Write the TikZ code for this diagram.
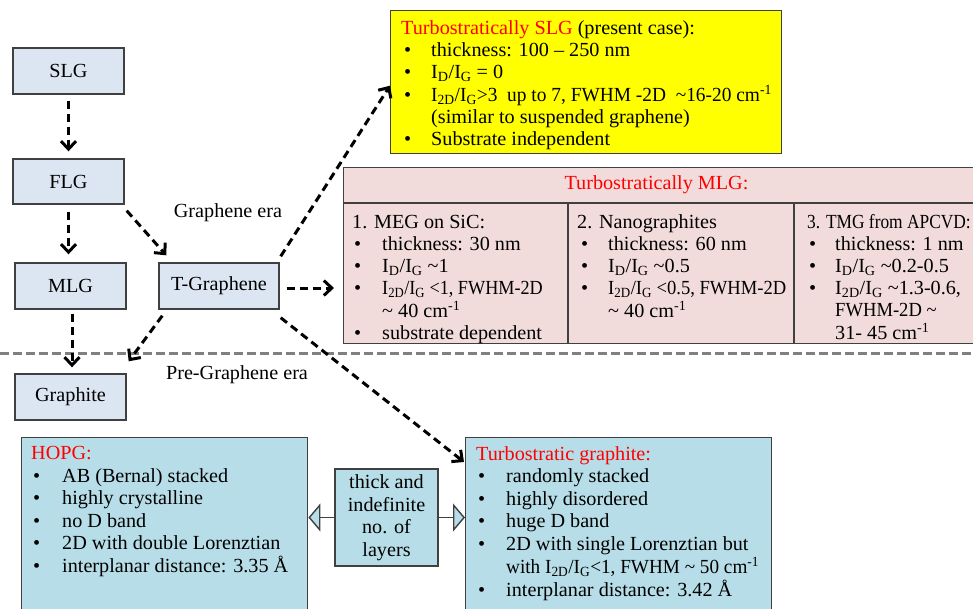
\documentclass[tikz,border=0pt]{standalone}
\usepackage{fontspec}
\usepackage{graphicx}
\setmainfont{Liberation Serif}[FakeStretch=1.01]
\usetikzlibrary{arrows.meta,calc}
\definecolor{smallblue}{HTML}{DCE6F2}
\definecolor{bigblue}{HTML}{B7DEE8}
\definecolor{pinkc}{HTML}{F2DCDB}
\definecolor{yellowc}{HTML}{FFFF00}
\definecolor{bordc}{HTML}{404040}
\definecolor{titlered}{HTML}{FF0000}
\definecolor{eragray}{HTML}{808080}
\newcommand{\sbs}[1]{\textsubscript{#1}}
\newcommand{\sps}[1]{\textsuperscript{#1}}
\newcommand{\tl}{\textasciitilde}
\newcommand{\IDG}{I\sbs{D}/I\sbs{G}}
\newcommand{\ITG}{I\sbs{2D}/I\sbs{G}}
\newcommand{\bul}[2]{\makebox[#2][l]{\hspace*{#1}\textbullet}}
\newcommand{\hsq}[2]{\scalebox{#1}[1]{#2}}
\begin{document}
\begin{tikzpicture}[x=1pt,y=-1pt,
  every node/.style={font=\fontsize{20}{22}\selectfont, text=black, inner sep=0pt},
  smallbox/.style={draw=bordc, line width=1.4pt, fill=smallblue, minimum width=111pt, minimum height=46pt},
  bigbox/.style={draw=bordc, line width=1.4pt},
  darrow/.style={draw=black, line width=3pt, dash pattern=on 8pt off 5pt,
    -{Straight Barb[length=8pt,width=15pt]}},
  eraline/.style={draw=eragray, line width=3pt, dash pattern=on 9pt off 4pt},
  tri/.style={draw=bordc, line width=1.4pt, -{Triangle[length=12pt,width=28pt,fill=bigblue]}},
  txt/.style={anchor=base west}
]
\useasboundingbox (0,0) rectangle (973,608);
\clip (0,0) rectangle (973,608);

% era separator
\draw[eraline] (0,353) -- (973,353);

% small boxes
\node[smallbox] (slg) at (68.5,71) {SLG};
\node[smallbox, minimum height=45pt] (flg) at (68.5,181.5) {FLG};
\node[smallbox] (mlg) at (70.5,286) {MLG};
\node[smallbox, minimum width=120pt] (tg) at (219,286) {T-Graphene};
\node[smallbox] (graphite) at (70.5,397) {Graphite};

\node (gera) at (228,213) {Graphene era};
\node (pgera) at (237,375) {Pre-Graphene era};

% yellow box
\node[bigbox, fill=yellowc, minimum width=391pt, minimum height=143pt, anchor=north west] (yel) at (390,10) {};
\node[txt] (ytext) at (401,34.5) {\begin{tabular}[t]{@{}l@{}}
\textcolor{titlered}{Turbostratically SLG} (present case):\\
\bul{3pt}{30pt}thickness: 100 – 250 nm\\
\bul{3pt}{30pt}\IDG{} = 0\\
\bul{3pt}{30pt}\hsq{0.96}{\ITG{}>3\ \ up to 7, FWHM -2D\ \ \tl16-20 cm\sps{-1}}\\
\hspace*{30pt}(similar to suspended graphene)\\
\bul{3pt}{30pt}Substrate independent
\end{tabular}};

% pink box
\node[bigbox, fill=pinkc, minimum width=660pt, minimum height=176pt, anchor=north west] (pinkbox) at (343,167) {};
\draw[bordc, line width=1.4pt] (343,203) -- (1003,203);
\draw[bordc, line width=1.4pt] (568,203) -- (568,343);
\draw[bordc, line width=1.4pt] (794,203) -- (794,343);
\node[text=titlered] (ptitle) at (656.5,185) {Turbostratically MLG:};
\node[txt] (p1) at (352,228.5) {\begin{tabular}[t]{@{}l@{}}
1. MEG on SiC:\\
\bul{2pt}{30pt}thickness: 30 nm\\
\bul{2pt}{30pt}\IDG{} \tl1\\
\bul{2pt}{30pt}\hsq{0.9}{\ITG{} <1, FWHM-2D}\\
\hspace*{30pt}\tl{} 40 cm\sps{-1}\\
\bul{2pt}{30pt}substrate dependent
\end{tabular}};
\node[txt] (p2) at (577,228.5) {\begin{tabular}[t]{@{}l@{}}
2. Nanographites\\
\bul{4pt}{31pt}thickness: 60 nm\\
\bul{4pt}{31pt}\IDG{} \tl0.5\\
\bul{4pt}{31pt}\hsq{0.92}{\ITG{} <0.5, FWHM-2D}\\
\hspace*{31pt}\tl{} 40 cm\sps{-1}
\end{tabular}};
\node[txt] (p3) at (807,228.5) {\begin{tabular}[t]{@{}l@{}}
\hsq{0.86}{3. TMG from APCVD:}\\
\bul{2pt}{28pt}thickness: 1 nm\\
\bul{2pt}{28pt}\IDG{} \tl0.2-0.5\\
\bul{2pt}{28pt}\ITG{} \tl1.3-0.6,\\
\hspace*{28pt}\hsq{0.92}{FWHM-2D \tl}\\
\hspace*{28pt}31- 45 cm\sps{-1}
\end{tabular}};

% bottom boxes
\node[bigbox, fill=bigblue, minimum width=286pt, minimum height=190pt, anchor=north west] (hopg) at (21,437) {};
\node[txt, font=\fontsize{20}{22.5}\selectfont] (htext) at (31,459.5) {\begin{tabular}[t]{@{}l@{}}
\textcolor{titlered}{HOPG:}\\
\bul{2pt}{31pt}AB (Bernal) stacked\\
\bul{2pt}{31pt}highly crystalline\\
\bul{2pt}{31pt}no D band\\
\bul{2pt}{31pt}2D with double Lorenztian\\
\bul{2pt}{31pt}interplanar distance: 3.35 Å
\end{tabular}};

\node[bigbox, fill=bigblue, minimum width=306pt, minimum height=190pt, anchor=north west] (turbo) at (465,437) {};
\node[txt, font=\fontsize{20}{22.4}\selectfont] (ttext) at (476,460.5) {\begin{tabular}[t]{@{}l@{}}
\textcolor{titlered}{Turbostratic graphite:}\\
\bul{2pt}{30pt}randomly stacked\\
\bul{2pt}{30pt}highly disordered\\
\bul{2pt}{30pt}huge D band\\
\bul{2pt}{30pt}2D with single Lorenztian but\\
\hspace*{30pt}\hsq{0.95}{with \ITG{}<1, FWHM \tl{} 50 cm\sps{-1}}\\
\bul{2pt}{30pt}interplanar distance: 3.42 Å
\end{tabular}};

\node[bigbox, fill=bigblue, minimum width=103pt, minimum height=97pt, align=center,
  font=\fontsize{20}{22.5}\selectfont] (mid) at (386.5,517.5) {thick and\\indefinite\\no. of\\layers};

\draw[tri] (mid.west) -- (mid.west -| hopg.east);
\draw[tri] (mid.east) -- (mid.east -| turbo.west);

% dashed arrows
\draw[darrow] ($(slg.south)+(0,6)$) -- ($(flg.north)+(0,-7)$);
\draw[darrow] ($(flg.south)+(0,7)$) -- ($(flg.south |- mlg.north)+(0,-8)$);
\draw[darrow] ($(mlg.south)+(1.5,4)$) -- ($(mlg.south |- graphite.north)+(1.5,-6)$);
\draw[darrow] ($(flg.south east)+(2,6)$) -- ($(tg.north west)+(8,-7)$);
\draw[darrow] ($(tg.south west)+(4,6)$) -- ($(graphite.north east)+(2,-12)$);
\draw[darrow] ($(tg.north east)+(1,-6)$) -- ($(yel.west)+(0,3.5)$);
\draw[darrow] ($(tg.east)+(7,2)$) -- ($(tg.east -| pinkbox.west)+(-9,2)$);
\draw[darrow] ($(tg.south east)+(1,8)$) -- ($(turbo.north west)+(-1,25)$);
\end{tikzpicture}
\end{document}
